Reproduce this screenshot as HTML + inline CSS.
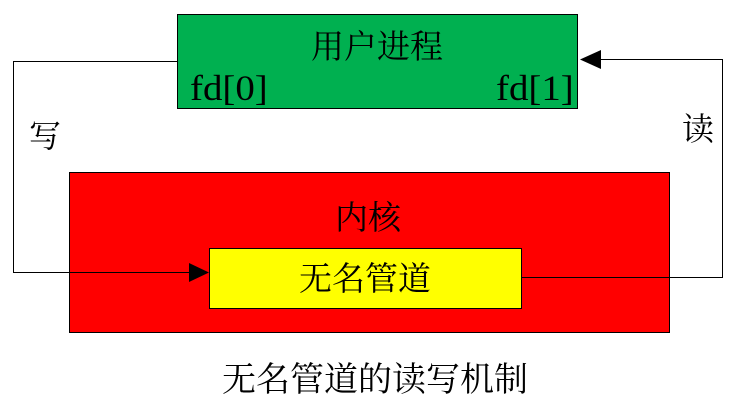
<!DOCTYPE html>
<html><head><meta charset="utf-8"><style>
body{margin:0;background:#fff;width:738px;height:404px;position:relative;overflow:hidden;font-family:"Liberation Serif","Noto Serif CJK SC",serif}
.b{position:absolute;box-sizing:border-box;border:1px solid #000}
.t{position:absolute;white-space:nowrap;color:#000;line-height:1}
</style></head><body>
<div class="b" style="left:177px;top:14px;width:401px;height:95px;background:#00b050"></div>
<div class="b" style="left:69px;top:172px;width:601px;height:161px;background:#ff0000"></div>
<div class="b" style="left:209px;top:248px;width:313px;height:61px;background:#ffff00"></div>
<svg width="738" height="404" style="position:absolute;left:0;top:0">
<polyline points="177,61.5 13.5,61.5 13.5,272.5 192,272.5" fill="none" stroke="#000" stroke-width="1"/>
<polygon points="209,272.5 189,263 189,282" fill="#000"/>
<polyline points="522,277.5 722.5,277.5 722.5,59.5 598,59.5" fill="none" stroke="#000" stroke-width="1"/>
<polygon points="580,59.5 601,50 601,69" fill="#000"/>
</svg>
<div class="t" style="left:311px;top:28px;font-size:33px;font-family:'Noto Serif CJK SC',serif;">用户进程</div>
<div class="t" style="left:190px;top:70px;font-size:36px;font-family:'Liberation Serif',serif;transform:scaleX(1.08);transform-origin:left">fd[0]</div>
<div class="t" style="left:496px;top:70px;font-size:36px;font-family:'Liberation Serif',serif;transform:scaleX(1.08);transform-origin:left">fd[1]</div>
<div class="t" style="left:29px;top:118px;font-size:32px;font-family:'Noto Serif CJK SC',serif;">写</div>
<div class="t" style="left:682px;top:111px;font-size:32px;font-family:'Noto Serif CJK SC',serif;">读</div>
<div class="t" style="left:335px;top:199px;font-size:33px;font-family:'Noto Serif CJK SC',serif;">内核</div>
<div class="t" style="left:299px;top:260px;font-size:33px;font-family:'Noto Serif CJK SC',serif;">无名管道</div>
<div class="t" style="left:222px;top:360px;font-size:34px;font-family:'Noto Serif CJK SC',serif;">无名管道的读写机制</div>
</body></html>
